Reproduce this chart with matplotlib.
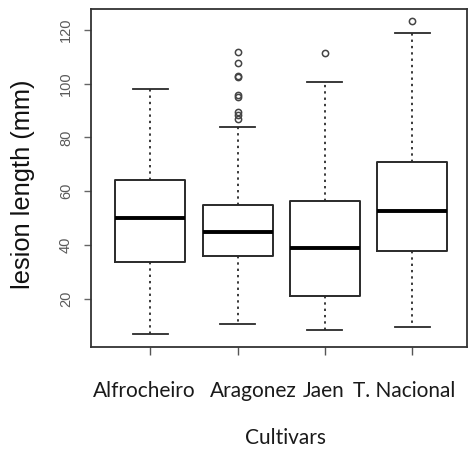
import matplotlib
matplotlib.use("Agg")
import matplotlib.pyplot as plt

# Values
cultivars = ["Alfrocheiro", "Aragonez", "Jaen", "T. Nacional"]
whisker_low = [6.9, 10.7, 8.4, 9.6]
q1 = [33.6, 36.0, 21.0, 38.0]
medians = [50.2, 44.8, 38.8, 52.8]
q3 = [64.2, 54.9, 56.5, 70.9]
whisker_high = [98.0, 84.0, 100.7, 118.8]
outliers = [
    [],
    [111.9, 107.8, 103.0, 102.5, 95.8, 95.0, 89.4, 88.4, 86.8],
    [111.2],
    [123.2],
]
yticks = [20, 40, 60, 80, 100, 120]

stats = []
for i, name in enumerate(cultivars):
    stats.append({
        "label": name,
        "whislo": whisker_low[i],
        "q1": q1[i],
        "med": medians[i],
        "q3": q3[i],
        "whishi": whisker_high[i],
        "fliers": outliers[i],
    })

fig = plt.figure(figsize=(4.69, 4.5), dpi=100)
ax = fig.add_axes([0.194, 0.229, 0.802, 0.751])

edge = "#2a2a2a"
ax.bxp(
    stats,
    positions=[1, 2, 3, 4],
    widths=0.8,
    patch_artist=False,
    boxprops=dict(color=edge, linewidth=1.4),
    medianprops=dict(color="black", linewidth=2.8),
    whiskerprops=dict(color=edge, linewidth=1.3, linestyle=(0, (1.3, 2.2))),
    capprops=dict(color=edge, linewidth=1.3),
    flierprops=dict(marker="o", markersize=4.5, markerfacecolor="none",
                    markeredgecolor="#444444", markeredgewidth=1.1),
    capwidths=0.4,
)

ax.set_xlim(0.32, 4.63)
ax.set_ylim(2.2, 127.7)

for s in ax.spines.values():
    s.set_color("#333333")
    s.set_linewidth(1.3)

ax.set_yticks(yticks)
ax.set_yticklabels([str(v) for v in yticks], rotation=90, va="center",
                   fontsize=10.5, color="#5a5a5a",
                   family=["Liberation Sans Narrow", "Liberation Sans"])
ax.tick_params(axis="y", length=5, width=1.0, color="#666666", pad=8)
ax.set_xticks([1, 2, 3, 4])
ax.set_xticklabels([""] * 4)
ax.tick_params(axis="x", length=6, width=1.0, color="#555555")

# y axis title, centred where the reference has it
fig.text(23 / 469, 1 - 184 / 450, "lesion length (mm)", rotation=90,
         ha="center", va="center", fontsize=18.3, family="Liberation Sans",
         color="#111111")

# category names placed as in the reference (slightly off the ticks)
label_x = [0.93, 2.18, 2.99, 3.91]
for x, name in zip(label_x, cultivars):
    ax.text(x, -0.13, name, transform=ax.get_xaxis_transform(),
            ha="center", va="center", fontsize=15, family="Lato",
            color="#1a1a1a")
fig.text(285 / 469, 1 - 438 / 450, "Cultivars", ha="center", va="center",
         fontsize=15, family="Lato", color="#1a1a1a")

fig.savefig("out.png", dpi=100)
